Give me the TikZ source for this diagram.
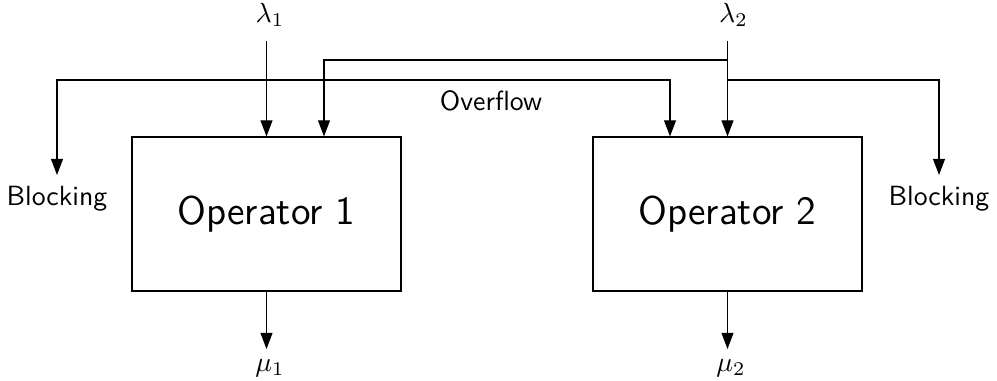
\documentclass[tikz,border=0pt]{standalone}
\usetikzlibrary{arrows.meta,calc}
\begin{document}
\begin{tikzpicture}[x=0.36pt,y=-0.36pt,
  opbox/.style={draw,line width=0.4pt,minimum width=96.84pt,minimum height=55.44pt,
                inner sep=0pt,font=\sffamily\Large},
  flow/.style={line width=0.4pt,-{Triangle[length=5.8pt,width=4.3pt]}},
  tag/.style={font=\sffamily,inner sep=0pt},
  rate/.style={inner sep=0pt}]
\useasboundingbox (0,0) rectangle (997,380);

% the two operators
\node[opbox] (op1) at (266.5,214) {Operator 1};
\node[opbox] (op2) at (727.5,214) {Operator 2};

% arrival rates
\node[rate,anchor=south] (l1) at (270,27) {$\lambda_1$};
\node[rate,anchor=south] (l2) at (733.5,27) {$\lambda_2$};
\coordinate (s1) at (266.5,41);
\coordinate (s2) at (727.5,41);

% service rates
\node[rate,anchor=north,inner ysep=3.6pt] (m1) at (270,349) {$\mu_1$};
\node[rate,anchor=north,inner ysep=3.6pt] (m2) at (731,349) {$\mu_2$};

% blocked calls
\node[tag,anchor=north,inner ysep=4pt] (bL) at (57,175) {Blocking};
\node[tag,anchor=north,inner ysep=4pt] (bR) at (939,175) {Blocking};

% overflow label
\node[tag] (ov) at (491,101) {Overflow};

% branching points
\coordinate (j1) at (266.5,80);
\coordinate (j2a) at (727.5,60);
\coordinate (j2b) at (727.5,80);

% arrivals
\draw[flow] (s1) -- (op1.north);
\draw[flow] (s2) -- (op2.north);

% stream 1: overflow to operator 2, or blocked
\draw[flow] (j1) -| ($(op2.north)+(-57.5,0)$);
\draw[flow] (j1) -| (bL.north);

% stream 2: overflow to operator 1, or blocked
\draw[flow] (j2a) -| ($(op1.north)+(57.5,0)$);
\draw[flow] (j2b) -| (bR.north);

% departures
\draw[flow] (op1.south) -- (m1.north -| op1.south);
\draw[flow] (op2.south) -- (m2.north -| op2.south);
\end{tikzpicture}
\end{document}
